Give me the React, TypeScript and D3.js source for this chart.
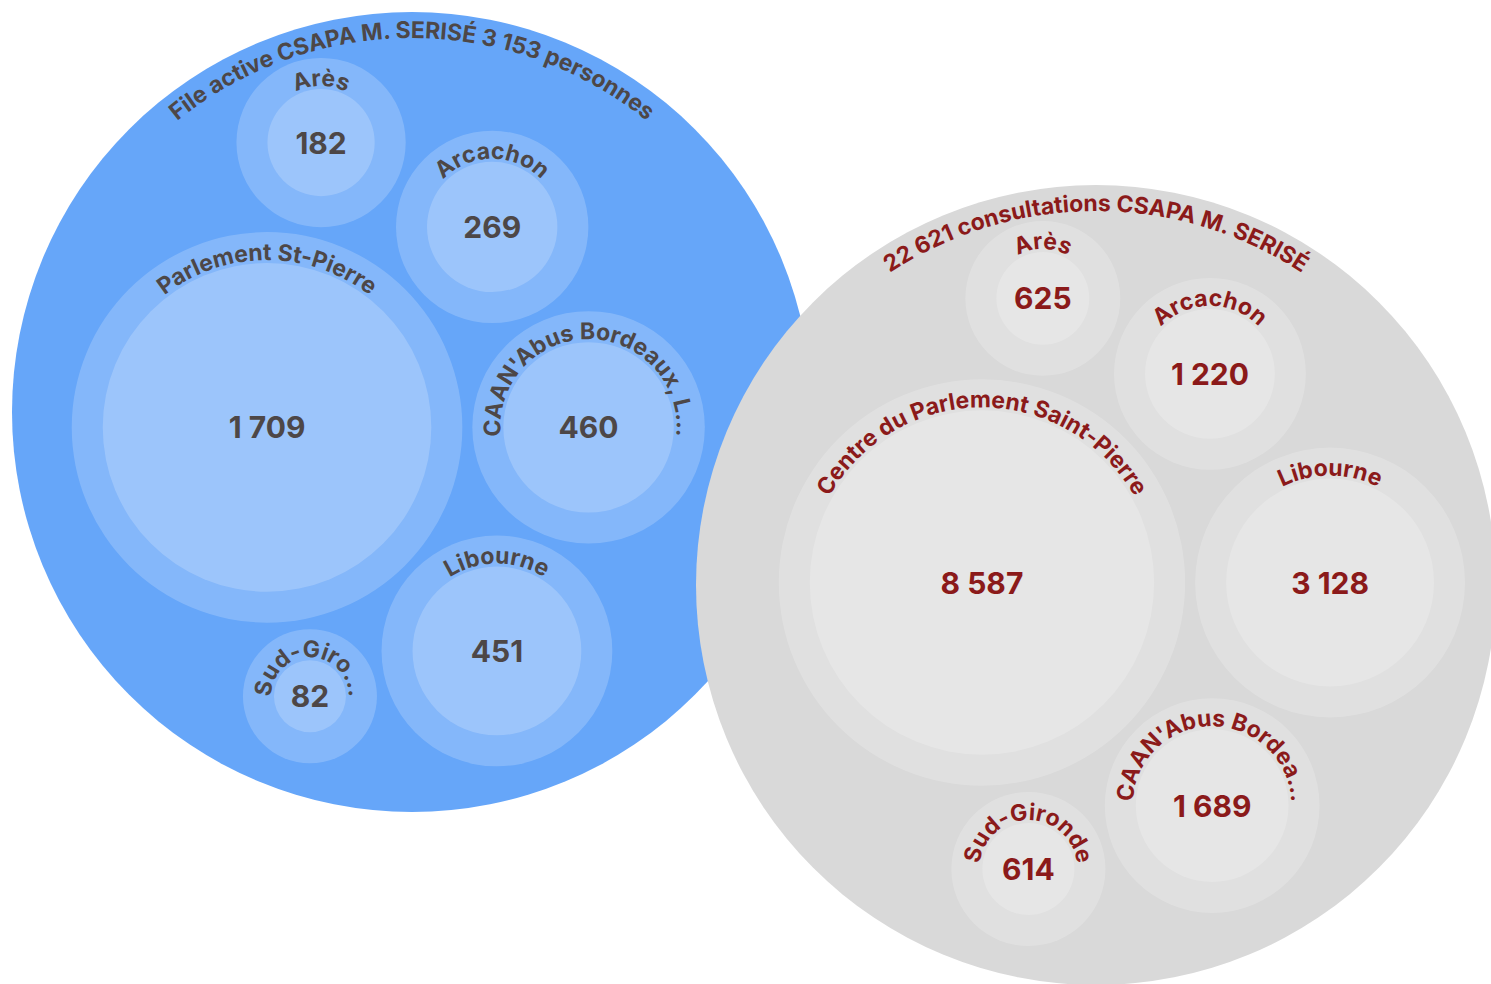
import React, { useRef, useEffect } from 'react';
import * as d3 from 'd3';

// File active (personnes) par centre
const fileActiveTitle = "File active CSAPA M. SERISÉ 3 153 personnes";
const fileActiveLabels = ["Arès", "Arcachon", "Parlement St-Pierre", "CAAN'Abus Bordeaux, L...", "Libourne", "Sud-Giro..."];
const fileActiveValues = [182, 269, 1709, 460, 451, 82];

// Consultations par centre
const consultTitle = "22 621 consultations CSAPA M. SERISÉ";
const consultLabels = ["Arès", "Arcachon", "Centre du Parlement Saint-Pierre", "Libourne", "CAAN'Abus Bordea...", "Sud-Gironde"];
const consultValues = [625, 1220, 8587, 3128, 1689, 614];

const WIDTH = 1491;
const HEIGHT = 984;
const GROUP_R = 400;
const RING = 31;
const GAP = 5;
const FONT = "Inter, 'Liberation Sans', Arial, sans-serif";

interface Bubble {
  label: string;
  value: number;
  inner: number;
  r: number;
  x: number;
  y: number;
}

const fmt = d3.formatLocale({ decimal: ",", thousands: "\u00a0", grouping: [3], currency: ["", " €"] }).format(",d");

// pack the centres of one group so that they fill the big circle
function layoutGroup(labels: string[], values: number[]): Bubble[] {
  const base = labels.map((label, i) => ({ label, value: values[i] }))
    .sort((a, b) => b.value - a.value);
  const target = GROUP_R - 26;

  const build = (k: number) => {
    const circles: Bubble[] = base.map(d => {
      const inner = k * Math.sqrt(d.value);
      return { ...d, inner, r: inner + RING + GAP, x: 0, y: 0 };
    });
    d3.packSiblings(circles);
    const e = d3.packEnclose(circles);
    return { circles, r: e ? e.r : 0 };
  };

  let lo = 0, hi = 30;
  for (let i = 0; i < 60; i++) {
    const mid = (lo + hi) / 2;
    if (build(mid).r > target) hi = mid; else lo = mid;
  }
  const { circles } = build(lo);
  return circles.map(c => ({ ...c, r: c.r - GAP }));
}

// full circle starting at the bottom, clockwise, so 50% is the top
const arcPath = (r: number) =>
  `M0,${r} A${r},${r} 0 1 1 0,${-r} A${r},${r} 0 1 1 0,${r}`;

const groups = [
  { id: "fa", title: fileActiveTitle, labels: fileActiveLabels, values: fileActiveValues, cx: 412, cy: 412, fill: "#66a6f9", text: "#4d4747" },
  { id: "cs", title: consultTitle, labels: consultLabels, values: consultValues, cx: 1096, cy: 585, fill: "#d9d9d9", text: "#8b1a1a" },
];

const App: React.FC = () => {
  const svgRef = useRef<SVGSVGElement | null>(null);

  useEffect(() => {
    if (!svgRef.current) return;
    const svg = d3.select(svgRef.current);
    svg.selectAll("*").remove();

    groups.forEach(grp => {
      const bubbles = layoutGroup(grp.labels, grp.values);
      const g = svg.append("g").attr("transform", `translate(${grp.cx},${grp.cy})`);

      g.append("circle").attr("r", GROUP_R).attr("fill", grp.fill);

      g.append("path").attr("id", `${grp.id}-title`).attr("d", arcPath(GROUP_R - 26)).attr("fill", "none");
      g.append("text")
        .attr("font-family", FONT)
        .attr("font-size", 23)
        .attr("font-weight", 700)
        .attr("fill", grp.text)
        .append("textPath")
        .attr("href", `#${grp.id}-title`)
        .attr("startOffset", "50%")
        .attr("text-anchor", "middle")
        .text(grp.title);

      const node = g.selectAll(".bubble")
        .data(bubbles)
        .join("g")
        .attr("class", "bubble")
        .attr("transform", d => `translate(${d.x},${d.y})`);

      node.append("circle").attr("r", d => d.r).attr("fill", "#fff").attr("fill-opacity", 0.2);
      node.append("circle").attr("r", d => d.inner).attr("fill", "#fff").attr("fill-opacity", 0.2);

      node.append("path")
        .attr("id", (d, i) => `${grp.id}-lbl-${i}`)
        .attr("d", d => arcPath(d.inner + 3))
        .attr("fill", "none");

      node.append("text")
        .attr("font-family", FONT)
        .attr("font-size", 23)
        .attr("font-weight", 700)
        .attr("fill", grp.text)
        .append("textPath")
        .attr("href", (d, i) => `#${grp.id}-lbl-${i}`)
        .attr("startOffset", "50%")
        .attr("text-anchor", "middle")
        .text(d => d.label);

      node.append("text")
        .attr("font-family", FONT)
        .attr("font-size", 30)
        .attr("font-weight", 700)
        .attr("fill", grp.text)
        .attr("text-anchor", "middle")
        .attr("dominant-baseline", "central")
        .text(d => fmt(d.value));
    });
  }, []);

  return (
    <svg
      ref={svgRef}
      width={WIDTH}
      height={HEIGHT}
      style={{ position: 'absolute', left: 0, top: 0, display: 'block' }}
    />
  );
};

export default App;
